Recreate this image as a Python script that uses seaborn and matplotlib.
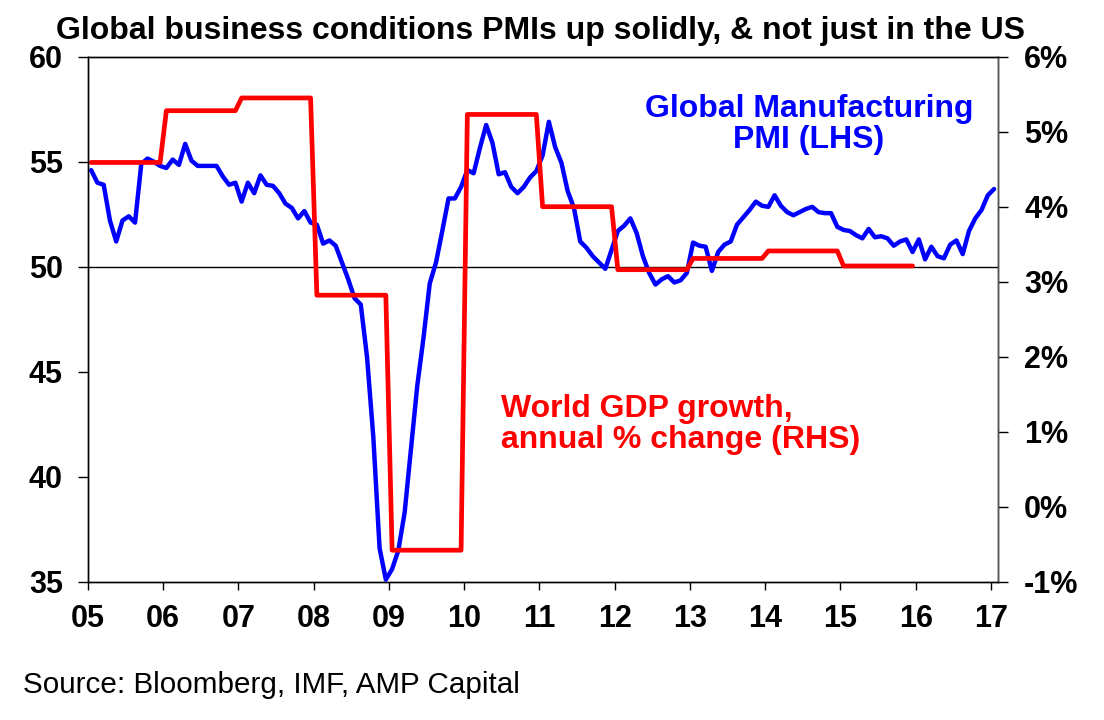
import matplotlib
matplotlib.use("Agg")
import matplotlib.pyplot as plt
import numpy as np
import pandas as pd
import seaborn as sns

# Global manufacturing PMI, monthly Jan 2005 - Jan 2017 (LHS)
pmi = [
    54.6, 54.0, 53.9, 52.2, 51.2, 52.2, 52.4, 52.1, 54.9, 55.15, 55.0, 54.8,
    54.7, 55.1, 54.85, 55.85, 55.05, 54.8, 54.8, 54.8, 54.8, 54.3, 53.9, 54.0,
    53.1, 54.0, 53.5, 54.35, 53.9, 53.85, 53.5, 53.0, 52.8, 52.3, 52.65, 52.1,
    52.0, 51.1, 51.25, 51.0, 50.2, 49.4, 48.5, 48.2, 45.7, 41.9, 36.6, 35.1,
    35.6, 36.5, 38.3, 41.3, 44.3, 46.6, 49.2, 50.2, 51.7, 53.25, 53.25, 53.8,
    54.6, 54.45, 55.65, 56.75, 55.9, 54.4, 54.5, 53.8, 53.5, 53.8, 54.25, 54.55,
    55.3, 56.9, 55.7, 54.95, 53.6, 52.8, 51.2, 50.9, 50.5, 50.2, 49.9, 50.8,
    51.7, 51.95, 52.3, 51.6, 50.5, 49.7, 49.15, 49.4, 49.55, 49.25, 49.35, 49.7,
    51.15, 51.0, 50.95, 49.8, 50.7, 51.05, 51.2, 52.0, 52.35, 52.7, 53.1, 52.9,
    52.85, 53.4, 52.9, 52.6, 52.45, 52.6, 52.75, 52.85, 52.6, 52.55, 52.55, 51.9,
    51.75, 51.7, 51.5, 51.35, 51.8, 51.4, 51.45, 51.35, 51.0, 51.2, 51.3, 50.7,
    51.3, 50.35, 50.95, 50.5, 50.4, 51.05, 51.25, 50.6, 51.7, 52.3, 52.7, 53.4,
    53.7,
]

# World GDP growth, annual % change (RHS)
gdp_years = list(range(2005, 2016))
gdp_growth = [4.59, 5.28, 5.45, 2.82, -0.58, 5.23, 4.0, 3.16, 3.31, 3.41, 3.21]

year_ticks = list(range(2005, 2018))
year_labels = ["05", "06", "07", "08", "09", "10", "11", "12", "13", "14", "15", "16", "17"]
left_ticks = [35, 40, 45, 50, 55, 60]
right_ticks = [-1, 0, 1, 2, 3, 4, 5, 6]

sns.set_style("ticks")
plt.rcParams["font.family"] = ["Liberation Sans", "DejaVu Sans"]
plt.rcParams["font.weight"] = "bold"
plt.rcParams["text.color"] = "black"
plt.rcParams["xtick.color"] = "black"
plt.rcParams["ytick.color"] = "black"

# monthly points sit mid-month on a fractional-year axis
pmi_df = pd.DataFrame({"t": 2005 + (np.arange(len(pmi)) + 0.5) / 12, "pmi": pmi})
gdp_df = pd.DataFrame({
    "t": 2005 + (np.arange(len(gdp_years) * 12) + 0.5) / 12,
    "gdp": np.repeat(gdp_growth, 12),
})

W, H = 1104, 720
fig = plt.figure(figsize=(W / 100, H / 100), dpi=100)
ax = fig.add_axes([88 / W, 1 - 581.7 / H, (997.7 - 88) / W, (581.7 - 56.7) / H])
ax2 = ax.twinx()

ax.axhline(50, color="black", lw=1, zorder=1)
sns.lineplot(data=pmi_df, x="t", y="pmi", ax=ax, color="#0000ff", lw=3.2, zorder=3)
sns.lineplot(data=gdp_df, x="t", y="gdp", ax=ax2, color="#ff0000", lw=3.4)

ax.set_xlim(2005, 2017.09)
ax.set_ylim(35, 60)
ax2.set_ylim(-1, 6)
ax.set_xticks(year_ticks)
ax.set_xticklabels(year_labels)
ax.set_yticks(left_ticks)
ax2.set_yticks(right_ticks)
ax2.set_yticklabels([f"{v}%" for v in right_ticks])
for a in (ax, ax2):
    a.set_xlabel("")
    a.set_ylabel("")
    for s in a.spines.values():
        s.set_color("black")
        s.set_linewidth(1)
ax2.spines["right"].set_color("#555555")
ax.tick_params(axis="y", direction="out", length=7, width=1, labelsize=22, pad=11)
ax.tick_params(axis="x", direction="out", length=6, width=1, labelsize=22, pad=10)
ax2.tick_params(axis="y", direction="out", length=7, width=1, labelsize=22, pad=12)

fig.text(541 / W, 1 - 39.3 / H, "Global business conditions PMIs up solidly, & not just in the US",
         ha="center", va="baseline", fontsize=23, fontweight="bold")

fig.text(809 / W, 1 - 116.7 / H, "Global Manufacturing", color="#0000ff",
         ha="center", va="baseline", fontsize=23, fontweight="bold")
fig.text(809 / W, 1 - 148.3 / H, "PMI (LHS)", color="#0000ff",
         ha="center", va="baseline", fontsize=23, fontweight="bold")

fig.text(501 / W, 1 - 416.7 / H, "World GDP growth,", color="#ff0000",
         ha="left", va="baseline", fontsize=23, fontweight="bold")
fig.text(501 / W, 1 - 448.3 / H, "annual % change (RHS)", color="#ff0000",
         ha="left", va="baseline", fontsize=23, fontweight="bold")

fig.text(23 / W, 1 - 692.7 / H, "Source: Bloomberg, IMF, AMP Capital",
         ha="left", va="baseline", fontsize=21.3, fontweight="normal")

fig.savefig("out.png", dpi=100)
